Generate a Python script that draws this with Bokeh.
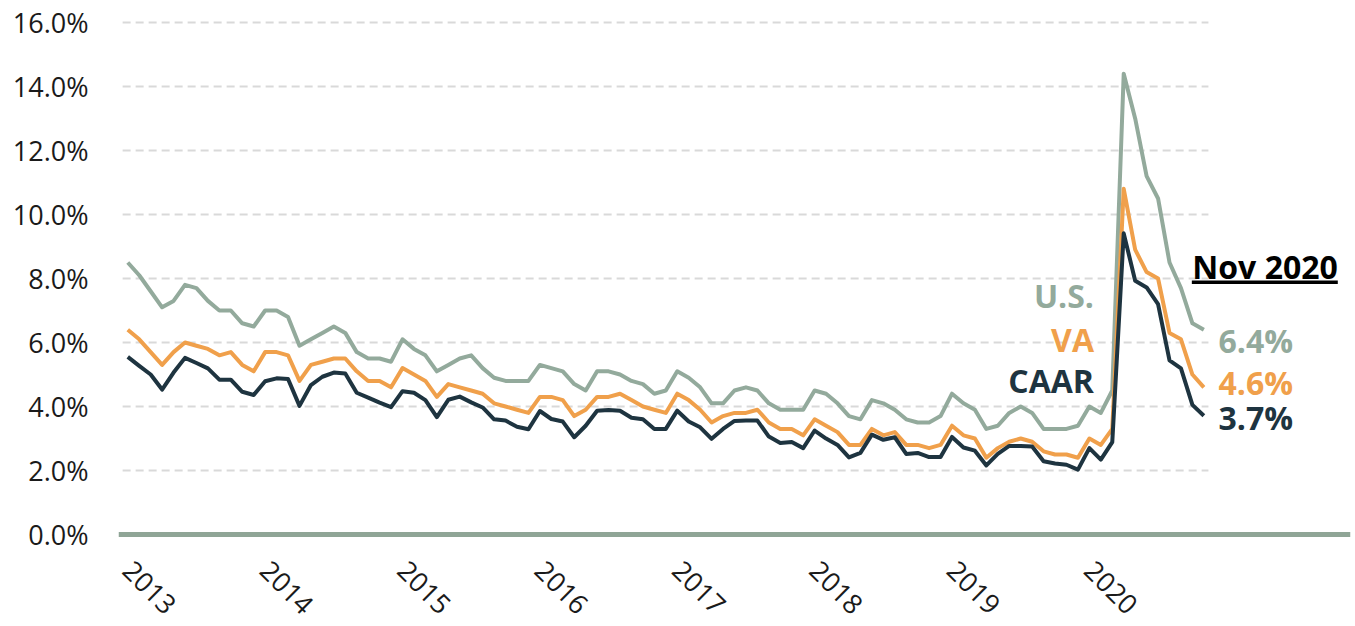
import math
from bokeh.plotting import figure
from bokeh.models import Range1d, FixedTicker, PrintfTickFormatter, Span, Label
from bokeh.embed import file_html
from bokeh.resources import INLINE

# ---- data (monthly, Jan 2013 - Nov 2020) ----
years = ["2013", "2014", "2015", "2016", "2017", "2018", "2019", "2020"]

us = [
    8.5, 8.1, 7.6, 7.1, 7.3, 7.8, 7.7, 7.3, 7.0, 7.0, 6.6, 6.5,
    7.0, 7.0, 6.8, 5.9, 6.1, 6.3, 6.5, 6.3, 5.7, 5.5, 5.5, 5.4,
    6.1, 5.8, 5.6, 5.1, 5.3, 5.5, 5.6, 5.2, 4.9, 4.8, 4.8, 4.8,
    5.3, 5.2, 5.1, 4.7, 4.5, 5.1, 5.1, 5.0, 4.8, 4.7, 4.4, 4.5,
    5.1, 4.9, 4.6, 4.1, 4.1, 4.5, 4.6, 4.5, 4.1, 3.9, 3.9, 3.9,
    4.5, 4.4, 4.1, 3.7, 3.6, 4.2, 4.1, 3.9, 3.6, 3.5, 3.5, 3.7,
    4.4, 4.1, 3.9, 3.3, 3.4, 3.8, 4.0, 3.8, 3.3, 3.3, 3.3, 3.4,
    4.0, 3.8, 4.5, 14.4, 13.0, 11.2, 10.5, 8.5, 7.7, 6.6, 6.4,
]

va = [
    6.4, 6.1, 5.7, 5.3, 5.7, 6.0, 5.9, 5.8, 5.6, 5.7, 5.3, 5.1,
    5.7, 5.7, 5.6, 4.8, 5.3, 5.4, 5.5, 5.5, 5.1, 4.8, 4.8, 4.6,
    5.2, 5.0, 4.8, 4.3, 4.7, 4.6, 4.5, 4.4, 4.1, 4.0, 3.9, 3.8,
    4.3, 4.3, 4.2, 3.7, 3.9, 4.3, 4.3, 4.4, 4.2, 4.0, 3.9, 3.8,
    4.4, 4.2, 3.9, 3.5, 3.7, 3.8, 3.8, 3.9, 3.5, 3.3, 3.3, 3.1,
    3.6, 3.4, 3.2, 2.8, 2.8, 3.3, 3.1, 3.2, 2.8, 2.8, 2.7, 2.8,
    3.4, 3.1, 3.0, 2.4, 2.7, 2.9, 3.0, 2.9, 2.6, 2.5, 2.5, 2.4,
    3.0, 2.8, 3.3, 10.8, 8.9, 8.2, 8.0, 6.3, 6.1, 5.0, 4.6,
]

caar = [
    5.55, 5.27, 5.00, 4.53, 5.06, 5.52, 5.36, 5.19, 4.84, 4.84, 4.46, 4.36,
    4.79, 4.88, 4.86, 4.02, 4.67, 4.93, 5.06, 5.03, 4.43, 4.28, 4.12, 3.98,
    4.48, 4.43, 4.20, 3.67, 4.21, 4.31, 4.13, 3.97, 3.60, 3.56, 3.37, 3.29,
    3.86, 3.61, 3.53, 3.04, 3.40, 3.87, 3.89, 3.87, 3.65, 3.60, 3.30, 3.30,
    3.87, 3.53, 3.35, 2.99, 3.30, 3.55, 3.56, 3.56, 3.06, 2.86, 2.89, 2.70,
    3.25, 3.00, 2.80, 2.41, 2.55, 3.12, 2.96, 3.04, 2.52, 2.55, 2.42, 2.42,
    3.05, 2.72, 2.62, 2.16, 2.52, 2.77, 2.77, 2.75, 2.29, 2.22, 2.18, 2.03,
    2.70, 2.34, 2.89, 9.41, 7.93, 7.72, 7.20, 5.44, 5.19, 4.05, 3.71,
]

series_names = ["U.S.", "VA", "CAAR"]
y_ticks = [0, 2, 4, 6, 8, 10, 12, 14, 16]
period_label = "Nov 2020"

# ---- style ----
C_US = "#93aa9c"
C_VA = "#f0a04b"
C_CAAR = "#1e3440"
C_BASE = "#8fa596"
C_GRID = "#d9d9d9"
C_TEXT = "#1a1a1a"
FONT = "Open Sans"

x = list(range(len(us)))
n = len(us)

p = figure(width=1355, height=626,
           x_range=Range1d(-0.81, 106.81), y_range=Range1d(-0.186, 16.31),
           output_backend="svg", toolbar_location=None,
           min_border_left=118, min_border_right=5,
           min_border_top=12, min_border_bottom=83)
p.outline_line_color = None
p.grid.visible = False
p.background_fill_color = "white"
p.border_fill_color = "white"

# dashed gridlines limited to the data span
g_ticks = [t for t in y_ticks if t != 0]
p.segment(x0=[-0.45] * len(g_ticks), x1=[n - 1 + 0.4] * len(g_ticks),
          y0=g_ticks, y1=g_ticks, line_color=C_GRID, line_width=2,
          line_dash="8 5")

# baseline
p.add_layout(Span(location=0, dimension="width", line_color=C_BASE,
                  line_width=5))

# series
for ys, col in [(us, C_US), (va, C_VA), (caar, C_CAAR)]:
    p.line(x, ys, line_color=col, line_width=4, line_join="round")

# y axis
ya = p.yaxis[0]
ya.ticker = FixedTicker(ticks=y_ticks)
ya.formatter = PrintfTickFormatter(format="%.1f%%")
ya.axis_line_color = None
ya.major_tick_line_color = None
ya.minor_tick_line_color = None
ya.major_label_text_font = FONT
ya.major_label_text_font_size = "27px"
ya.major_label_text_color = C_TEXT
ya.major_label_standoff = 24

# x axis
xa = p.xaxis[0]
year_ticks = [12 * i for i in range(len(years))]
xa.ticker = FixedTicker(ticks=year_ticks)
xa.major_label_overrides = {t: y for t, y in zip(year_ticks, years)}
xa.major_label_orientation = -math.pi / 4
xa.axis_line_color = None
xa.major_tick_line_color = None
xa.minor_tick_line_color = None
xa.major_label_text_font = FONT
xa.major_label_text_font_size = "27px"
xa.major_label_text_color = C_TEXT
xa.major_label_standoff = 19

# series name labels (right-aligned, left of the spike)
name_y = [7.47, 6.09, 4.81]
for name, yy, col in zip(series_names, name_y, [C_US, C_VA, C_CAAR]):
    p.add_layout(Label(x=84.4, y=yy, text=name, text_align="right",
                       text_baseline="middle", text_font=FONT,
                       text_font_style="bold", text_font_size="32px",
                       text_color=col))

# end-value labels
val_y = [6.07, 4.75, 3.66]
for ys, yy, col in zip([us, va, caar], val_y, [C_US, C_VA, C_CAAR]):
    p.add_layout(Label(x=n - 1 + 1.28, y=yy, text=f"{ys[-1]:.1f}%",
                       text_align="left", text_baseline="middle",
                       text_font=FONT, text_font_style="bold",
                       text_font_size="32px", text_color=col))

# period header with underline
p.add_layout(Label(x=n - 1 - 1.01, y=8.39, text=period_label,
                   text_align="left", text_baseline="middle",
                   text_font=FONT, text_font_style="bold",
                   text_font_size="32px", text_color="#000000"))
p.segment(x0=[n - 1 - 1.05], x1=[n - 1 + 11.7], y0=[7.88], y1=[7.88],
          line_color="#000000", line_width=3.5)

open("out.html", "w").write(file_html(p, INLINE))
